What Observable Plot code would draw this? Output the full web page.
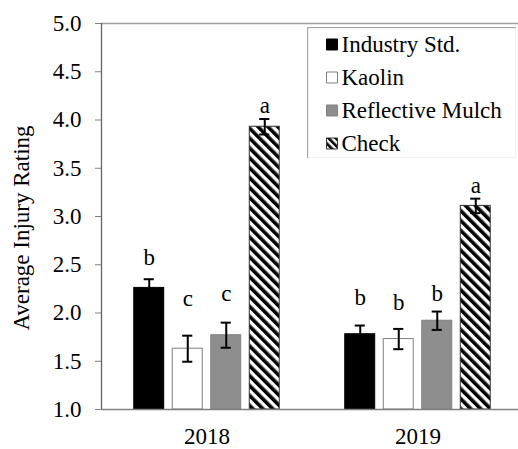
<!DOCTYPE html>
<html>
<head>
<meta charset="utf-8">
<script src="https://cdn.jsdelivr.net/npm/d3@7"></script>
<script src="https://cdn.jsdelivr.net/npm/@observablehq/plot@0.6"></script>
<style>
  body { margin: 0; background: white; }
  #wrap { position: relative; width: 518px; height: 449px; font-family: 'Liberation Serif', 'Times New Roman', serif; }
  #wrap > svg { display: block; }
  #legendwrap { position: absolute; left: 307px; top: 27px; }
  #ylabel { position: absolute; left: 22px; top: 228px; transform: translate(-50%, -50%) rotate(-90deg); white-space: nowrap; }
</style>
</head>
<body>
<svg width="0" height="0" style="position:absolute">
  <defs>
    <pattern id="diag" width="7" height="7" patternUnits="userSpaceOnUse" patternTransform="rotate(-45)">
      <rect width="7" height="7" fill="white"></rect>
      <rect width="3.6" height="7" fill="black"></rect>
    </pattern>
    <pattern id="diagsw" width="5" height="5" patternUnits="userSpaceOnUse" patternTransform="rotate(-45)">
      <rect width="5" height="5" fill="white"></rect>
      <rect width="2.6" height="5" fill="black"></rect>
    </pattern>
  </defs>
</svg>
<div id="wrap"><div id="legendwrap"></div></div>
<script>
const years = ["2018", "2019"];
const treatments = ["Industry Std.", "Kaolin", "Reflective Mulch", "Check"];
const means2018 = [2.26, 1.63, 1.77, 3.93];
const means2019 = [1.78, 1.73, 1.92, 3.11];
const se2018 = [0.09, 0.135, 0.13, 0.08];
const se2019 = [0.09, 0.105, 0.095, 0.075];
const letters2018 = ["b", "c", "c", "a"];
const letters2019 = ["b", "b", "b", "a"];
const letterY2018 = [2.57, 2.15, 2.20, 4.15];
const letterY2019 = [2.16, 2.11, 2.20, 3.32];
const yTicks = [1.0, 1.5, 2.0, 2.5, 3.0, 3.5, 4.0, 4.5, 5.0];
const yTitle = "Average Injury Rating";

const FONT = "'Liberation Serif', 'Times New Roman', serif";
const FS = 23;
const fills = {"Industry Std.": "black", "Kaolin": "white", "Reflective Mulch": "#8e8e8e", "Check": "url(#diag)"};
const swFills = {"Industry Std.": "black", "Kaolin": "white", "Reflective Mulch": "#8e8e8e", "Check": "url(#diagsw)"};
const strokes = {"Industry Std.": "black", "Kaolin": "#808080", "Reflective Mulch": "#808080", "Check": "#333"};

const step = 0.1825, half = 0.071, cap = 0.024;
const rows = [];
[[means2018, se2018, letters2018, letterY2018], [means2019, se2019, letters2019, letterY2019]].forEach(([m, s, l, ly], g) => {
  treatments.forEach((t, i) => {
    const c = g + (i - 1.5) * step;
    rows.push({year: years[g], treatment: t, xc: c, x1: c - half, x2: c + half,
      mean: m[i], lo: m[i] - s[i], hi: m[i] + s[i], letter: l[i], ly: ly[i]});
  });
});

const chart = Plot.plot({
  width: 518,
  height: 449,
  marginLeft: 101,
  marginRight: 0,
  marginTop: 23,
  marginBottom: 40,
  style: {fontFamily: FONT, fontSize: FS + "px", color: "black", background: "white"},
  x: {domain: [-0.5, 1.5], range: [101, 523]},
  y: {domain: [1, 5]},
  color: {type: "identity"},
  marks: [
    Plot.axisY({ticks: yTicks, tickFormat: d3.format(".1f"), tickSize: 6, tickPadding: 14, fontSize: FS, fontFamily: FONT, stroke: "#808080", fill: "black", label: null}),
    Plot.axisX({ticks: [0, 1], tickFormat: d => years[d], tickSize: 0, tickPadding: 18, fontSize: FS, fontFamily: FONT, fill: "black", label: null}),
    Plot.ruleY([5], {stroke: "#a0a0a0", strokeWidth: 1.3}),
    Plot.rectY(rows, {x1: "x1", x2: "x2", y1: 1, y2: "mean", fill: d => fills[d.treatment], stroke: d => strokes[d.treatment], strokeWidth: 1}),
    Plot.ruleX(rows, {x: "xc", y1: "lo", y2: "hi", stroke: "black", strokeWidth: 2}),
    Plot.ruleY(rows, {y: "hi", x1: d => d.xc - cap, x2: d => d.xc + cap, stroke: "black", strokeWidth: 2}),
    Plot.ruleY(rows, {y: "lo", x1: d => d.xc - cap, x2: d => d.xc + cap, stroke: "black", strokeWidth: 2}),
    Plot.text(rows, {x: "xc", y: "ly", text: "letter", fontSize: FS, fontFamily: FONT, fill: "black"}),
    Plot.ruleY([1], {stroke: "#808080", strokeWidth: 1.3}),
    Plot.ruleX([-0.5], {y1: 1, y2: 5, stroke: "#666", strokeWidth: 1.3})
  ]
});
const wrap = document.getElementById("wrap");
wrap.insertBefore(chart, wrap.firstChild);

const yl = document.createElement("div");
yl.id = "ylabel";
yl.textContent = yTitle;
yl.style.fontFamily = FONT;
yl.style.fontSize = FS + "px";
wrap.appendChild(yl);

const legend = Plot.plot({
  width: 209,
  height: 131,
  margin: 0,
  style: {fontFamily: FONT, fontSize: FS + "px", color: "black", background: "white"},
  y: {type: "point", domain: treatments, range: [16, 116], padding: 0, axis: null},
  color: {type: "identity"},
  marks: [
    Plot.frame({stroke: "#a6a6a6", strokeWidth: 1.3}),
    Plot.dot(treatments, {y: d => d, frameAnchor: "left", dx: 24.5, symbol: "square", r: 6.2,
      fill: d => swFills[d], stroke: d => strokes[d], strokeWidth: 1}),
    Plot.text(treatments, {y: d => d, frameAnchor: "left", dx: 34, textAnchor: "start", text: d => d,
      fontSize: FS, fontFamily: FONT, fill: "black"})
  ]
});
document.getElementById("legendwrap").appendChild(legend);
</script>
</body>
</html>
